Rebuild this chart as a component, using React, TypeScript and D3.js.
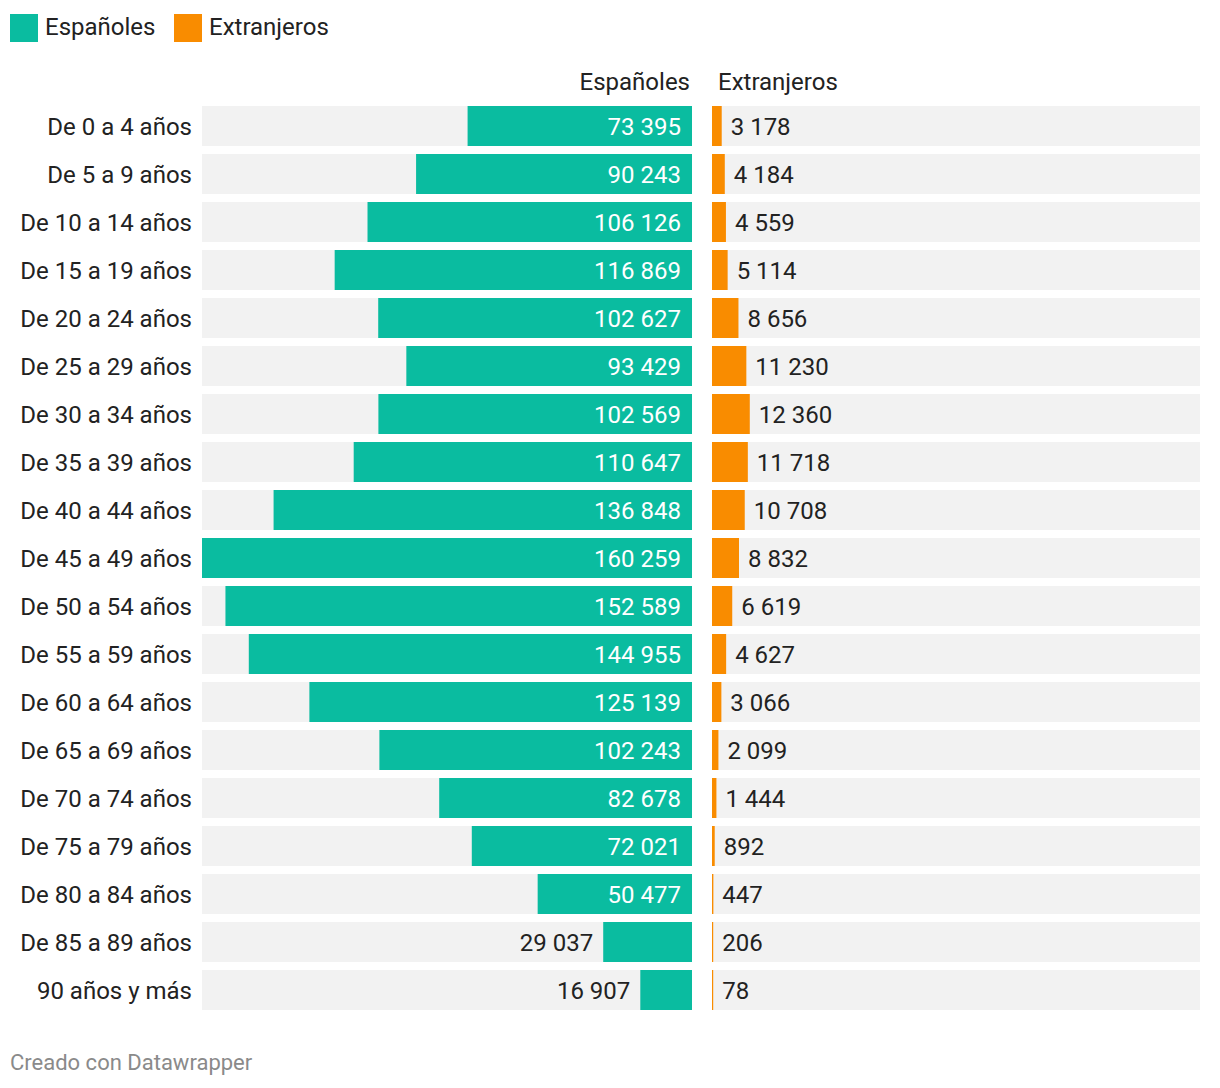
import React from "react";
import * as d3 from "d3";

const categories = [
  "De 0 a 4 años", "De 5 a 9 años", "De 10 a 14 años", "De 15 a 19 años",
  "De 20 a 24 años", "De 25 a 29 años", "De 30 a 34 años", "De 35 a 39 años",
  "De 40 a 44 años", "De 45 a 49 años", "De 50 a 54 años", "De 55 a 59 años",
  "De 60 a 64 años", "De 65 a 69 años", "De 70 a 74 años", "De 75 a 79 años",
  "De 80 a 84 años", "De 85 a 89 años", "90 años y más",
];
const espanoles = [
  73395, 90243, 106126, 116869, 102627, 93429, 102569, 110647, 136848, 160259,
  152589, 144955, 125139, 102243, 82678, 72021, 50477, 29037, 16907,
];
const extranjeros = [
  3178, 4184, 4559, 5114, 8656, 11230, 12360, 11718, 10708, 8832,
  6619, 4627, 3066, 2099, 1444, 892, 447, 206, 78,
];
const seriesNames = ["Españoles", "Extranjeros"];

const TEAL = "#0abca0";
const ORANGE = "#f98c00";
const TEXT = "#222";
const FONT = "Roboto, sans-serif";

const fmt = (v: number) => String(v).replace(/\B(?=(\d{3})+(?!\d))/g, "\u00A0");

export default function App() {
  const W = 1220, H = 1088;
  const leftX0 = 202, leftX1 = 692, rightX0 = 712, rightX1 = 1200;
  const step = 48;
  const bh = 40;
  const y = d3.scaleLinear().domain([0, categories.length]).range([106, 106 + categories.length * step]);
  const maxV = d3.max(espanoles)!;
  const xs = d3.scaleLinear().domain([0, maxV]).range([0, leftX1 - leftX0]);
  const fs = 24;

  return (
    <svg width={W} height={H} style={{ display: "block", position: "absolute", left: 0, top: 0 }} fontFamily={FONT}>
      <rect x={10} y={14} width={28} height={28} fill={TEAL} />
      <text x={45} y={35} fontSize={fs} fill={TEXT}>{seriesNames[0]}</text>
      <rect x={174} y={14} width={28} height={28} fill={ORANGE} />
      <text x={209} y={35} fontSize={fs} fill={TEXT}>{seriesNames[1]}</text>

      <text x={690} y={90} fontSize={fs} fill={TEXT} textAnchor="end">{seriesNames[0]}</text>
      <text x={718} y={90} fontSize={fs} fill={TEXT}>{seriesNames[1]}</text>

      {categories.map((c, i) => {
        const top = y(i);
        const mid = top + bh / 2;
        const wl = xs(espanoles[i]);
        const wr = Math.max(xs(extranjeros[i]), 1.2);
        const inside = wl > 120;
        return (
          <g key={c}>
            <text x={192} y={mid + 8.5} fontSize={fs} fill={TEXT} textAnchor="end">{c}</text>
            <rect x={leftX0} y={top} width={leftX1 - leftX0} height={bh} fill="#f2f2f2" />
            <rect x={leftX1 - wl} y={top} width={wl} height={bh} fill={TEAL} />
            <text
              x={inside ? leftX1 - 11 : leftX1 - wl - 10}
              y={mid + 8.5}
              fontSize={fs}
              fill={inside ? "#fff" : TEXT}
              textAnchor="end"
            >{fmt(espanoles[i])}</text>
            <rect x={rightX0} y={top} width={rightX1 - rightX0} height={bh} fill="#f2f2f2" />
            <rect x={rightX0} y={top} width={wr} height={bh} fill={ORANGE} />
            <text x={rightX0 + wr + 9} y={mid + 8.5} fontSize={fs} fill={TEXT}>{fmt(extranjeros[i])}</text>
          </g>
        );
      })}

      <text x={10} y={1070} fontSize={22} fill="#8a8a8a">Creado con Datawrapper</text>
    </svg>
  );
}
